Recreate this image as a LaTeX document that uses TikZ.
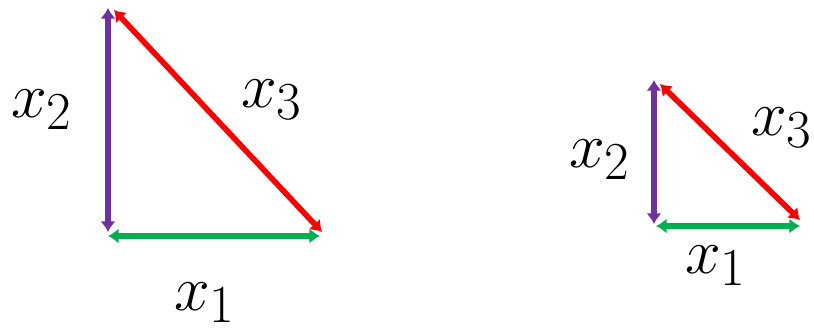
\documentclass[tikz,border=0pt]{standalone}
\usepackage{amsmath}
\usepackage{bm}
\usepackage[usenames]{xcolor}
\usetikzlibrary{arrows.meta,positioning}
\definecolor{sidepurple}{RGB}{112,48,160}
\definecolor{sidegreen}{RGB}{0,176,80}
\definecolor{sidered}{RGB}{255,0,0}

\begin{document}
\begin{tikzpicture}[
		x=0.03cm,
		y=-0.03cm,
		side/.style={
		  <->,
		  line width=4.8pt,
		  },
		lbl/.style={
		  inner sep=0pt,
		  font=\Huge,
		  scale=2.2,
		  transform shape
		  },
		>={Latex[length=0.32cm,width=0.46cm]}
		]
		\useasboundingbox (0,0) rectangle (814,335);
		% big triangle
		\coordinate (bigtop) at (108,8);
		\coordinate (bigcorner) at (108,232);
		\coordinate (bigleft) at (108,236);
		\coordinate (bigright) at (320,236);
		\coordinate (bighyptop) at (114,10);
		\coordinate (bighypend) at (322,232);
		\draw[side,sidepurple] (bigtop) -- (bigcorner);
		\draw[side,sidegreen] (bigleft) -- (bigright);
		\draw[side,sidered] (bighyptop) -- (bighypend);
		\node[lbl] (bigx2) at (42,110) {$x_2$};
		\node[lbl] (bigx3) at (272,100) {$x_3$};
		\node[lbl] (bigx1) at (205,303) {$x_1$};
		% small triangle
		\coordinate (smalltop) at (654,80);
		\coordinate (smallcorner) at (654,224);
		\coordinate (smallleft) at (656,226);
		\coordinate (smallright) at (800,226);
		\coordinate (smallhyptop) at (660,84);
		\coordinate (smallhypend) at (800,220);
		\draw[side,sidepurple] (smalltop) -- (smallcorner);
		\draw[side,sidegreen] (smallleft) -- (smallright);
		\draw[side,sidered] (smallhyptop) -- (smallhypend);
		\node[lbl] (smallx2) at (600,160) {$x_2$};
		\node[lbl] (smallx3) at (782,128) {$x_3$};
		\node[lbl] (smallx1) at (716,266) {$x_1$};
	\end{tikzpicture}
\end{document}
